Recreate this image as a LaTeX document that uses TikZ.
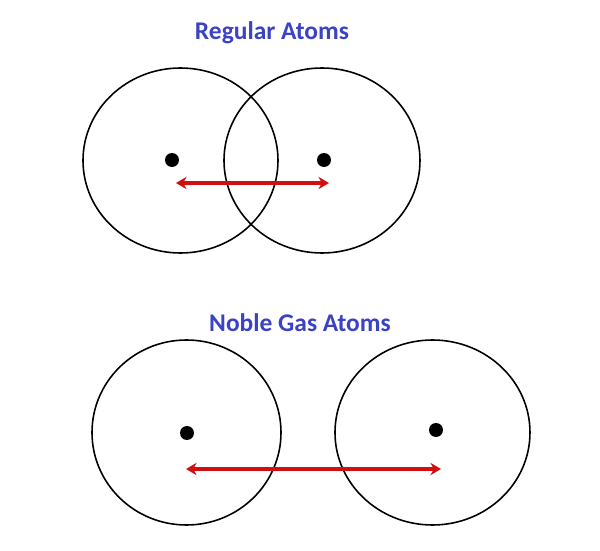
\documentclass[tikz,border=0pt]{standalone}
\usepackage{fontspec}
\setmainfont{Carlito}
\usetikzlibrary{arrows.meta,shapes.geometric}
\definecolor{titleblue}{RGB}{60,66,196}
\definecolor{arrowred}{RGB}{208,16,16}

\begin{document}
\begin{tikzpicture}[x=0.02cm,y=-0.02cm]
    \tikzstyle{atom} = [draw=black, line width=0.9pt, ellipse, inner sep=0pt]
    \tikzstyle{nucleus} = [circle, fill=black, minimum size=14*0.02cm, inner sep=0pt]
    \tikzstyle{title} = [text=titleblue, font=\fontsize{14.5}{17}\selectfont\bfseries]
    \tikzstyle{dist} = [draw=arrowred, line width=2.4pt, {Stealth[length=6pt,width=7pt]}-{Stealth[length=6pt,width=7pt]}]
    \useasboundingbox (0,0) rectangle (600,551);

    %%% REGULAR ATOMS
    \node[title] (t-reg) at (272,33) {Regular Atoms};
    \node[atom, minimum width=195*0.02cm, minimum height=185*0.02cm] (RA-1) at (180.5,160.5) {};
    \node[atom, minimum width=196*0.02cm, minimum height=185*0.02cm] (RA-2) at (322,160.5) {};
    \node[nucleus] (R-1) at (172,160) {};
    \node[nucleus] (R-2) at (324,160) {};
    \coordinate (Ra-1) at (176,183);
    \coordinate (Ra-2) at (329,183);
    \path[dist] (Ra-1) -- (Ra-2);

    %%% NOBLE GAS ATOMS
    \node[title] (t-noble) at (300,323) {Noble Gas Atoms};
    \node[atom, minimum width=189*0.02cm, minimum height=185*0.02cm] (NA-1) at (186.5,432.5) {};
    \node[atom, minimum width=195*0.02cm, minimum height=185*0.02cm] (NA-2) at (432.5,432.5) {};
    \node[nucleus] (N-1) at (187,433) {};
    \node[nucleus] (N-2) at (436,430) {};
    \coordinate (Na-1) at (186,469);
    \coordinate (Na-2) at (441,469);
    \path[dist] (Na-1) -- (Na-2);
\end{tikzpicture}
\end{document}
